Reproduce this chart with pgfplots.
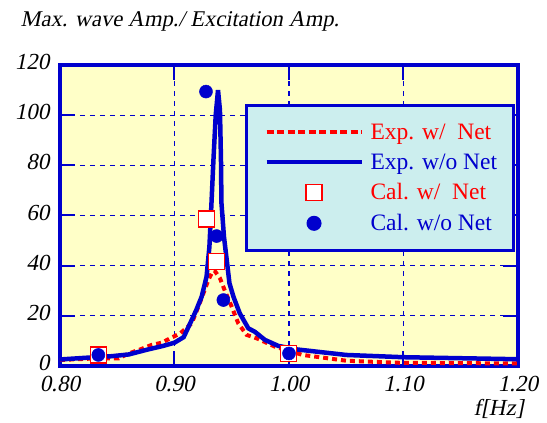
\documentclass[border=0pt]{standalone}
\usepackage{fontspec}
\setmainfont{Liberation Serif}
\newfontfamily\slantfont{Liberation Serif}[FakeSlant=0.2]
\usepackage{pgfplots}
\pgfplotsset{compat=1.18}

\definecolor{myblue}{RGB}{0,0,205}
\definecolor{myred}{RGB}{255,0,0}
\definecolor{bgyellow}{RGB}{255,255,200}
\definecolor{legcyan}{RGB}{204,238,238}

\newcommand{\tickfont}{\fontsize{23}{27}\selectfont\slantfont}

\begin{document}
\begin{tikzpicture}
\begin{axis}[
scale only axis,
width=458pt,
height=301pt,
xmin=0.8, xmax=1.2,
ymin=0, ymax=120,
xtick={0.8,0.9,1.0,1.1,1.2},
ytick={0,20,40,60,80,100,120},
/pgf/number format/assume math mode=true,
ticklabel style={font=\tickfont},
xticklabel style={yshift=-7pt, /pgf/number format/.cd, fixed, fixed zerofill, precision=2},
yticklabel style={xshift=-7pt, yshift=3pt},
axis line style={draw=myblue, line width=4pt},
axis background/.style={fill=bgyellow},
tick style={draw=myblue, line width=2pt},
major tick length=15pt,
tick align=inside,
grid=major,
grid style={draw=myblue, line width=1.2pt, dash pattern=on 5pt off 5pt},
clip=false,
legend cell align=left,
legend style={at={(0.404,0.870)}, anchor=north west, draw=myblue, line width=3pt,
  fill=legcyan, font=\fontsize{23.5}{28}\selectfont,
  inner xsep=14pt, inner ysep=16pt, row sep=9pt, column sep=5pt},
]

% Exp. w/ Net
\addplot[myred, line width=4pt, dash pattern=on 5pt off 4pt,
  legend image code/.code={\path[draw=none] (0pt,0pt) -- (101pt,0pt);
    \draw[myred, line width=4pt, dash pattern=on 7pt off 3.5pt] (6pt,0pt) -- (101pt,0pt);}]
coordinates {
(0.800,2.4) (0.830,3.0) (0.851,3.0) (0.860,5.0) (0.870,6.6) (0.880,8.4)
(0.889,9.3) (0.896,11) (0.905,13) (0.915,17) (0.922,25) (0.9296,34.3)
(0.9325,37) (0.935,38) (0.9397,35) (0.944,30) (0.950,23.6) (0.9557,17)
(0.963,12.4) (0.972,11) (0.9878,7.7) (1.000,6.0) (1.012,4.4) (1.050,2.1)
(1.094,1.3) (1.200,1.0)
};
\addlegendentry{\textcolor{myred}{Exp. w/~\ Net}}

% Exp. w/o Net
\addplot[myblue, line width=4.5pt,
  legend image code/.code={\path[draw=none] (0pt,0pt) -- (101pt,0pt);
    \draw[myblue, line width=4pt] (6pt,0pt) -- (101pt,0pt);}]
coordinates {
(0.800,2.6) (0.820,3.2) (0.845,3.9) (0.860,4.6) (0.876,6.5) (0.890,8.0)
(0.900,9.3) (0.908,11.5) (0.915,18.3) (0.919,22.3) (0.9237,27.6) (0.928,35.6)
(0.9305,47.6) (0.932,62) (0.934,82) (0.936,100) (0.938,110) (0.9397,102)
(0.9406,82) (0.941,65) (0.9432,51.6) (0.9456,42.3) (0.948,33) (0.9515,27.6)
(0.957,21) (0.9645,15) (0.970,13.7) (0.979,10.4) (0.9907,8) (1.007,6.6)
(1.050,4.4) (1.100,3.5) (1.200,2.7)
};
\addlegendentry{\textcolor{myblue}{Exp. w/o Net}}

% Cal. w/ Net
\addplot[only marks, mark=square*, mark size=8pt,
  mark options={draw=myred, fill=white, line width=1.5pt, solid},
  legend image code/.code={\path[draw=none] (0pt,0pt) -- (101pt,0pt);
    \draw[draw=myred, fill=white, line width=1.5pt] (45.5pt,-8pt) rectangle (61.5pt,8pt);}]
coordinates {
(0.8335,4.4) (0.928,58.6) (0.9368,41.6) (0.9994,5.0)
};
\addlegendentry{\textcolor{myred}{Cal. w/~\ Net}}

% Cal. w/o Net
\addplot[only marks, mark=*, mark size=6.5pt,
  mark options={draw=myblue, fill=myblue, line width=0.5pt, solid},
  legend image code/.code={\path[draw=none] (0pt,0pt) -- (101pt,0pt);
    \fill[myblue] (53.5pt,0pt) circle (6pt);}]
coordinates {
(0.8335,4.4) (0.9275,109.4) (0.9368,51.8) (0.9427,26.3) (1.000,5.0)
};
\addlegendentry{\textcolor{myblue}{Cal. w/o Net}}

\node[anchor=base west, font=\fontsize{22.5}{27}\selectfont\slantfont, xshift=-43pt, yshift=38pt]
  at (rel axis cs:0,1) {Max. wave Amp./ Excitation Amp.};
\node[anchor=base east, font=\tickfont, xshift=9pt, yshift=-50pt]
  at (rel axis cs:1,0) {f[Hz]};
\end{axis}
\pgfresetboundingbox
\path (current axis.south west) ++(-60pt,-57pt) rectangle ++(547pt,423pt);
\end{tikzpicture}
\end{document}
